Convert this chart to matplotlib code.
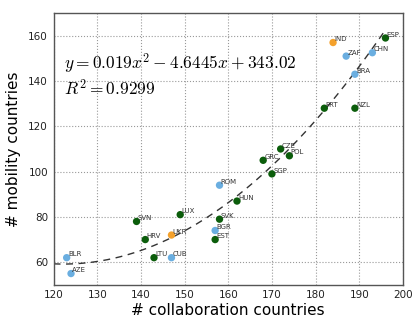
import matplotlib
matplotlib.use("Agg")
import matplotlib.pyplot as plt
import numpy as np

plt.rcParams["mathtext.fontset"] = "cm"

countries = ["ESP", "IND", "ZAF", "CHN", "BRA", "PRT", "NZL", "CZE", "POL", "GRC",
             "SGP", "ROM", "HUN", "SVK", "BGR", "EST", "LUX", "UKR", "SVN", "HRV",
             "LTU", "CUB", "BLR", "AZE"]
collab = [196, 184, 187, 193, 189, 182, 189, 172, 174, 168,
          170, 158, 162, 158, 157, 157, 149, 147, 139, 141,
          143, 147, 123, 124]
mobility = [159, 157, 151, 152.5, 143, 128, 128, 110, 107, 105,
            99, 94, 87, 79, 74, 70, 81, 72, 78, 70,
            62, 62, 62, 55]
groups = ["g", "o", "b", "b", "b", "g", "g", "g", "g", "g",
          "g", "b", "g", "g", "b", "g", "g", "o", "g", "g",
          "g", "b", "b", "b"]
coef = [0.019, -4.6445, 343.02]
r2 = 0.9299

colors = {"g": "#0b5d0b", "b": "#6aaee0", "o": "#f4a12c"}

fig = plt.figure(figsize=(4.12, 3.19), dpi=100)
ax = fig.add_axes([0.13, 0.107, 0.848, 0.852])

xs = np.linspace(120, 196, 200)
ax.plot(xs, np.polyval(coef, xs), linestyle=(0, (5, 4)), color="#333333", lw=1.0, zorder=2)

for c, x, y, g in zip(countries, collab, mobility, groups):
    ax.scatter(x, y, s=28, color=colors[g], edgecolors="none", zorder=3)
    ax.text(x + 0.3, y + 0.6, c, fontsize=5, color="#333333", zorder=4)

ax.text(122.5, 147.5, r"$y=0.019x^2-4.6445x+343.02$", fontsize=12.5, va="center")
ax.text(122.5, 136.5, r"$R^2=%.4f$" % r2, fontsize=12.5, va="center")

ax.set_xlim(120, 200)
ax.set_ylim(50, 170)
ax.set_xticks(np.arange(120, 201, 10))
ax.set_yticks(np.arange(60, 161, 20))
ax.tick_params(labelsize=7.5, length=0, pad=4, colors="#222222")
ax.grid(True, linestyle=":", color="#999999", lw=0.8)
ax.set_axisbelow(True)
for s in ax.spines.values():
    s.set_color("#555555")
    s.set_linewidth(1.0)
ax.set_xlabel("# collaboration countries", fontsize=11, labelpad=2)
ax.set_ylabel("# mobility countries", fontsize=11, labelpad=5)
fig.savefig("out.png", dpi=100)
